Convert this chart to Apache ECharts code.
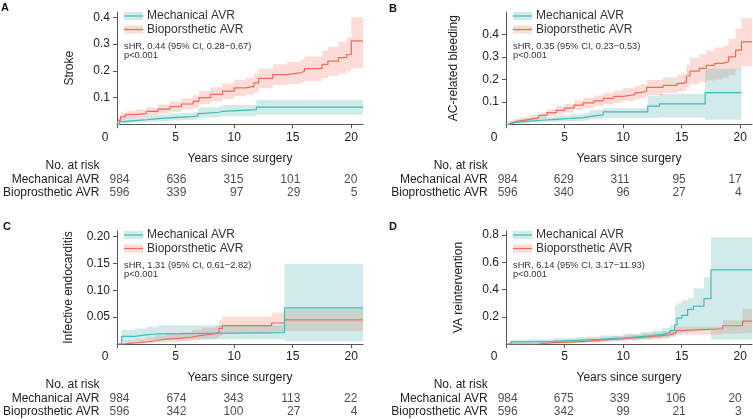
<!DOCTYPE html>
<html><head><meta charset="utf-8">
<script src="https://cdn.jsdelivr.net/npm/echarts@6/dist/echarts.min.js"></script>
<style>html,body{margin:0;padding:0;background:#fff}#c{width:753px;height:419px}</style>
</head><body><div id="c"></div>
<script>
// ---------- data ----------
const riskTimes = [0, 5, 10, 15, 20];
const riskRows = ['No. at risk', 'Mechanical AVR', 'Bioprosthetic AVR'];
const legendNames = ['Mechanical AVR', 'Bioporsthetic AVR'];
const panelLetters = ['A', 'B', 'C', 'D'];
const yTitles = ['Stroke', 'AC-related bleeding', 'Infective endocarditis', 'VA reintervention'];
const hrTexts = ['sHR, 0.44 (95% CI, 0.28\u22120.67)', 'sHR, 0.35 (95% CI, 0.23\u22120.53)',
                 'sHR, 1.31 (95% CI, 0.61\u22122.82)', 'sHR, 6.14 (95% CI, 3.17\u221211.93)'];
const pTexts = ['p<0.001', 'p<0.001', 'p<0.001', 'p<0.001'];

// rows: [years, estimate, lower 95% CI, upper 95% CI]
const strokeMech = [[0,0,0,0],[0.2,0.010,0.003,0.020],[0.6,0.014,0.006,0.025],[1.5,0.017,0.008,0.029],
  [2.5,0.021,0.010,0.033],[3.5,0.024,0.012,0.036],[4.5,0.027,0.014,0.040],[5.5,0.029,0.016,0.043],
  [6.5,0.031,0.017,0.046],[6.9,0.040,0.022,0.058],[7.1,0.045,0.025,0.064],[8.7,0.048,0.027,0.068],
  [9.0,0.055,0.030,0.072],[11.9,0.064,0.036,0.091],[21,0.064,0.036,0.091]];
const strokeBio = [[0,0,0,0],[0.1,0.015,0.006,0.025],[0.3,0.028,0.017,0.040],[0.7,0.036,0.024,0.049],
  [1.5,0.040,0.027,0.054],[2.5,0.048,0.033,0.063],[3.5,0.057,0.040,0.074],[4.5,0.066,0.047,0.085],
  [5.5,0.076,0.055,0.097],[6.5,0.086,0.063,0.109],[7.0,0.100,0.075,0.125],[8.0,0.112,0.085,0.139],
  [9.0,0.124,0.095,0.153],[10.0,0.136,0.105,0.167],[11.0,0.142,0.110,0.174],[11.7,0.155,0.120,0.190],
  [12.1,0.172,0.135,0.209],[13.3,0.186,0.147,0.225],[14.5,0.192,0.151,0.233],[15.6,0.198,0.155,0.241],
  [16.0,0.208,0.162,0.254],[17.5,0.224,0.173,0.275],[18.0,0.236,0.182,0.290],[18.9,0.249,0.190,0.308],
  [19.6,0.261,0.198,0.324],[20.0,0.312,0.210,0.400],[21,0.312,0.210,0.400]];

const bleedMech = [[0,0,0,0],[0.3,0.008,0.002,0.014],[0.8,0.013,0.005,0.021],[1.8,0.018,0.008,0.028],
  [3.0,0.022,0.011,0.034],[4.2,0.026,0.013,0.039],[5.5,0.030,0.015,0.045],[6.6,0.034,0.017,0.051],
  [7.1,0.042,0.022,0.064],[8.3,0.055,0.028,0.072],[12.1,0.081,0.028,0.128],[13.1,0.091,0.030,0.135],
  [17.0,0.141,0.020,0.247],[20.1,0.141,0.020,0.247]];
const bleedBio = [[0,0,0,0],[0.2,0.008,0.003,0.014],[0.6,0.015,0.008,0.022],[1.2,0.022,0.013,0.031],
  [2.0,0.030,0.019,0.041],[2.8,0.040,0.027,0.053],[3.5,0.052,0.037,0.067],[4.3,0.062,0.045,0.079],
  [5.0,0.072,0.053,0.091],[5.8,0.085,0.064,0.106],[6.6,0.095,0.072,0.118],[7.5,0.104,0.080,0.128],
  [8.3,0.115,0.089,0.141],[9.2,0.124,0.097,0.151],[10.0,0.132,0.104,0.160],[11.0,0.141,0.111,0.171],
  [11.5,0.148,0.117,0.179],[12.0,0.164,0.131,0.197],[13.4,0.173,0.138,0.208],[14.6,0.182,0.145,0.219],
  [15.1,0.188,0.150,0.226],[15.4,0.215,0.165,0.265],[15.7,0.237,0.178,0.296],[16.5,0.249,0.186,0.312],
  [17.1,0.262,0.195,0.329],[17.8,0.271,0.200,0.342],[18.5,0.279,0.207,0.351],[19.0,0.300,0.220,0.380],
  [19.6,0.330,0.245,0.425],[20.1,0.367,0.260,0.473],[21,0.367,0.260,0.473]];

const endoMech = [[0,0,0,0],[0.4,0.014,0.004,0.026],[1.5,0.017,0.006,0.029],[2.5,0.019,0.008,0.032],
  [3.5,0.021,0.009,0.035],[14.3,0.067,0.005,0.149],[21,0.067,0.005,0.149]];
const endoBio = [[0,0,0,0],[0.5,0.002,0,0.006],[1.5,0.004,0.001,0.009],[2.5,0.006,0.002,0.012],
  [3.2,0.009,0.003,0.016],[4.2,0.011,0.004,0.019],[5.5,0.013,0.005,0.022],[6.4,0.016,0.007,0.026],
  [7.2,0.019,0.009,0.030],[8.4,0.022,0.011,0.034],[8.7,0.029,0.015,0.044],[9.0,0.034,0.019,0.051],
  [13.2,0.039,0.022,0.058],[14.3,0.045,0.024,0.065],[21,0.045,0.024,0.065]];

const reintMech = [[0,0,0,0],[0.4,0.015,0.004,0.030],[2,0.020,0.007,0.035],[4,0.027,0.012,0.043],
  [6,0.035,0.018,0.052],[8,0.044,0.025,0.063],[10,0.054,0.032,0.076],[11.5,0.062,0.036,0.088],
  [12.5,0.070,0.040,0.100],[13.3,0.082,0.046,0.118],[14.0,0.098,0.055,0.141],[14.4,0.140,0.065,0.290],
  [14.6,0.190,0.075,0.300],[15.0,0.210,0.085,0.320],[15.5,0.254,0.095,0.340],[16.0,0.278,0.100,0.410],
  [16.9,0.334,0.110,0.490],[17.5,0.545,0.032,0.786],[21,0.545,0.032,0.786]];
const reintBio = [[0,0,0,0],[2.8,0.010,0.002,0.020],[4.0,0.014,0.004,0.025],[5.5,0.019,0.007,0.031],
  [6.8,0.027,0.012,0.040],[8.0,0.034,0.017,0.050],[9.0,0.041,0.021,0.058],[10.3,0.049,0.027,0.068],
  [11.5,0.056,0.032,0.077],[12.5,0.062,0.037,0.085],[13.3,0.068,0.042,0.093],[14.0,0.082,0.055,0.108],
  [14.5,0.098,0.068,0.125],[15.0,0.112,0.070,0.127],[18.5,0.134,0.075,0.175],[20.2,0.168,0.080,0.257],
  [21,0.168,0.080,0.257]];

const strokeRiskMech = [984, 636, 315, 101, 20];
const strokeRiskBio  = [596, 339, 97, 29, 5];
const bleedRiskMech  = [984, 629, 311, 95, 17];
const bleedRiskBio   = [596, 340, 96, 27, 4];
const endoRiskMech   = [984, 674, 343, 113, 22];
const endoRiskBio    = [596, 342, 100, 27, 4];
const reintRiskMech  = [984, 675, 339, 106, 20];
const reintRiskBio   = [596, 342, 99, 21, 3];

const yMax = [0.42, 0.5, 0.21, 0.83];
const yStep = [0.1, 0.1, 0.05, 0.2];
const yDigits = [1, 1, 2, 1];
const xMax = 21;

// ---------- build ----------
const FONT = "'Liberation Sans', Arial, Helvetica, sans-serif";
const TEAL = '#45b9b8', RED = '#ee6b5b';
const TEAL_BAND = 'rgba(75,178,172,0.26)', RED_BAND = 'rgba(240,118,98,0.26)';
const AXIS = '#555', TXT = '#222';

const curves = [[strokeMech, strokeBio], [bleedMech, bleedBio], [endoMech, endoBio], [reintMech, reintBio]];
const risks = [[strokeRiskMech, strokeRiskBio], [bleedRiskMech, bleedRiskBio], [endoRiskMech, endoRiskBio], [reintRiskMech, reintRiskBio]];
const layout = [
  {L:117, T:12, W:246, H:112.3, RL:127.7, RW:241, RT:166, RH:27, nameGap:41},
  {L:506, T:12, W:246, H:112.3, RL:517.7, RW:240.5, RT:166, RH:27, nameGap:46},
  {L:117, T:231, W:246, H:113, RL:127.7, RW:241, RT:385, RH:26.4, nameGap:42},
  {L:506, T:231, W:246, H:113, RL:517.7, RW:240.5, RT:385, RH:26.4, nameGap:41}
];
const letterPos = [[1,2],[389,3],[3,221],[389,221]];

const grid = [], xAxis = [], yAxis = [], series = [], graphic = [];

function bandRenderer(rows, fill) {
  return function (params, api) {
    if (params.dataIndex !== 0) return null;
    const n = rows.length, pts = [];
    for (let i = 0; i < n; i++) {
      pts.push(api.coord([rows[i][0], rows[i][3]]));
      if (i + 1 < n) pts.push(api.coord([rows[i + 1][0], rows[i][3]]));
    }
    for (let i = n - 1; i >= 0; i--) {
      if (i + 1 < n) pts.push(api.coord([rows[i + 1][0], rows[i][2]]));
      pts.push(api.coord([rows[i][0], rows[i][2]]));
    }
    return {type:'polygon', shape:{points:pts}, style:{fill:fill}, silent:true};
  };
}

layout.forEach((g, i) => {
  const gi = grid.length;
  grid.push({left:g.L, top:g.T, width:g.W, height:g.H});
  grid.push({left:g.RL, top:g.RT, width:g.RW, height:g.RH});
  xAxis.push({
    type:'value', gridIndex:gi, min:0, max:xMax, interval:5,
    name:'Years since surgery', nameLocation:'middle', nameGap:28,
    nameTextStyle:{fontFamily:FONT, fontSize:12, color:TXT},
    axisLine:{lineStyle:{color:AXIS, width:1}},
    axisTick:{length:4, lineStyle:{color:AXIS}},
    splitLine:{show:false},
    axisLabel:{margin:7, fontFamily:FONT, fontSize:12, color:TXT, showMaxLabel:false,
      formatter: v => v === 0 ? '{z|0}' : String(v),
      rich:{z:{fontFamily:FONT, fontSize:12, color:TXT, padding:[0,24,0,0]}}}
  });
  xAxis.push({type:'value', gridIndex:gi+1, min:0, max:xMax, show:false});
  yAxis.push({
    type:'value', gridIndex:gi, min:0, max:yMax[i], interval:yStep[i],
    name:yTitles[i], nameLocation:'middle', nameGap:g.nameGap,
    nameTextStyle:{fontFamily:FONT, fontSize:12, color:TXT},
    axisLine:{show:true, lineStyle:{color:AXIS, width:1}},
    axisTick:{show:true, length:4, lineStyle:{color:AXIS}},
    splitLine:{show:false},
    axisLabel:{margin:7, fontFamily:FONT, fontSize:12, color:TXT, showMinLabel:false, showMaxLabel:false,
      formatter: v => v.toFixed(yDigits[i])}
  });
  yAxis.push({
    type:'category', gridIndex:gi+1, data:riskRows, inverse:true, boundaryGap:false,
    axisLine:{show:false}, axisTick:{show:false},
    axisLabel:{interval:0, margin:30, fontFamily:FONT, fontSize:12, color:TXT}
  });

  // curves: bio band, bio line, mech band, mech line
  const order = [[1, RED_BAND, RED], [0, TEAL_BAND, TEAL]];
  order.forEach(([k, band, col]) => {
    const rows = curves[i][k];
    series.push({type:'custom', xAxisIndex:gi, yAxisIndex:gi, silent:true, clip:true,
      renderItem: bandRenderer(rows, band),
      encode:{x:0, y:[1, 2]},
      data: rows.map(r => [r[0], r[2], r[3]])});
    series.push({type:'line', xAxisIndex:gi, yAxisIndex:gi, step:'end', symbol:'none', silent:true,
      lineStyle:{color:col, width:1.2}, data: rows.map(r => [r[0], r[1]])});
  });

  // risk table numbers (right-aligned at column positions)
  [0, 1].forEach(k => {
    series.push({type:'scatter', xAxisIndex:gi+1, yAxisIndex:gi+1, symbolSize:1, silent:true,
      itemStyle:{color:'rgba(0,0,0,0)'},
      label:{show:true, position:'inside', align:'right', verticalAlign:'middle', offset:[0,0],
        fontFamily:FONT, fontSize:12, color:TXT, formatter: p => String(p.value[2])},
      data: riskTimes.map((t, j) => [t, k + 1, risks[i][k][j]])});
  });

  // legend + annotation
  const legCols = [[TEAL_BAND, TEAL], [RED_BAND, RED]];
  [0, 1].forEach(k => {
    const cy = g.T + (k === 0 ? 4 : 17.5);
    graphic.push({type:'rect', silent:true, shape:{x:g.L+7, y:cy-4, width:19, height:8}, style:{fill:legCols[k][0]}});
    graphic.push({type:'line', silent:true, shape:{x1:g.L+7, y1:cy, x2:g.L+26, y2:cy}, style:{stroke:legCols[k][1], lineWidth:1.2}});
    graphic.push({type:'text', silent:true, x:g.L+30, y:cy, style:{text:legendNames[k], fontFamily:FONT, fontSize:12,
      fill:'#333', align:'left', verticalAlign:'middle'}});
  });
  graphic.push({type:'text', silent:true, x:g.L+7, y:g.T+34, style:{text:hrTexts[i], fontFamily:FONT, fontSize:9.3,
    fill:'#333', align:'left', verticalAlign:'middle'}});
  graphic.push({type:'text', silent:true, x:g.L+7, y:g.T+43, style:{text:pTexts[i], fontFamily:FONT, fontSize:9.3,
    fill:'#333', align:'left', verticalAlign:'middle'}});
  graphic.push({type:'text', silent:true, x:letterPos[i][0], y:letterPos[i][1], style:{text:panelLetters[i],
    fontFamily:FONT, fontSize:11, fontWeight:'bold', fill:'#111', align:'left', verticalAlign:'top'}});
});

const chart = echarts.init(document.getElementById('c'), null, {renderer:'canvas'});
chart.setOption({animation:false, backgroundColor:'#fff', grid, xAxis, yAxis, series, graphic});
</script>
</body></html>
